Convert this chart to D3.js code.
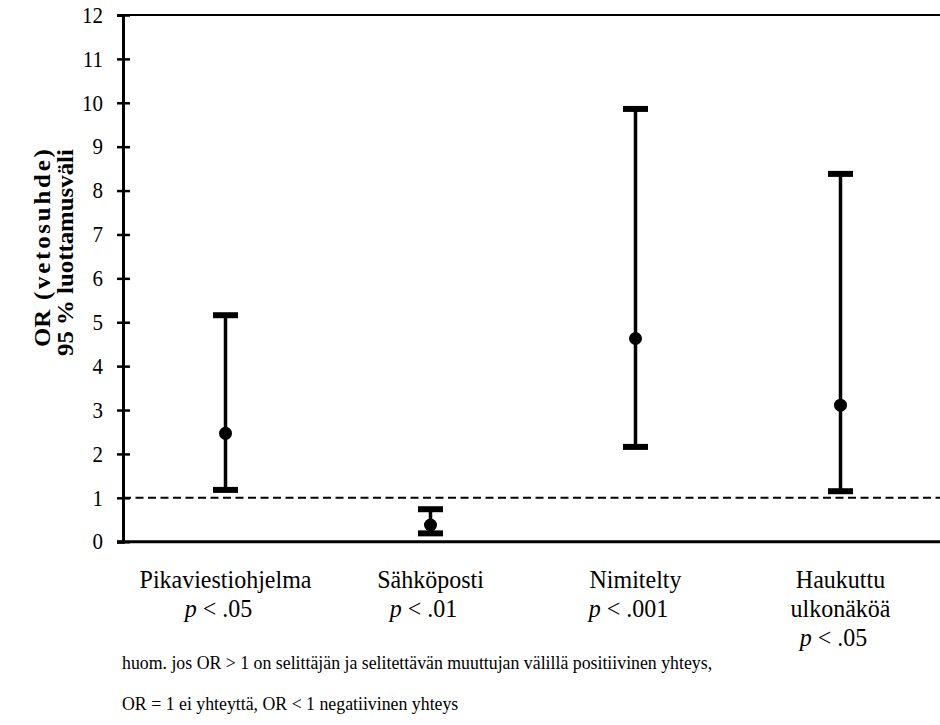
<!DOCTYPE html>
<html>
<head>
<meta charset="utf-8">
<script src="https://cdn.jsdelivr.net/npm/d3@7"></script>
<style>
  body { margin: 0; background: #fff; }
  svg text { font-family: "Liberation Serif", "Times New Roman", serif !important; fill: #000; }
</style>
</head>
<body>
<div id="chart"></div>
<script>

var categories = ["Pikaviestiohjelma", "Sähköposti", "Nimitelty", "Haukuttu ulkonäköä"];
var categoryLines = [["Pikaviestiohjelma"], ["Sähköposti"], ["Nimitelty"], ["Haukuttu", "ulkonäköä"]];
var pLabels = ["< .05", "< .01", "< .001", "< .05"];
var orValues = [2.47, 0.38, 4.63, 3.11];
var ciLower = [1.18, 0.19, 2.16, 1.15];
var ciUpper = [5.16, 0.74, 9.86, 8.38];
var yTickValues = [0, 1, 2, 3, 4, 5, 6, 7, 8, 9, 10, 11, 12];
var referenceLine = 1;
var noteLines = [
  "huom. jos OR > 1 on selittäjän ja selitettävän muuttujan välillä positiivinen yhteys,",
  "OR = 1 ei yhteyttä, OR < 1 negatiivinen yhteys"
];

var WIDTH = 940, HEIGHT = 725;
var STRETCH = "scale(1,1.08)"; // source text looks a bit tall

var svg = d3.select("#chart").append("svg")
  .attr("width", WIDTH)
  .attr("height", HEIGHT);

var x = d3.scaleBand()
  .domain(categories)
  .range([123, 943])
  .padding(0);

var y = d3.scaleLinear()
  .domain([0, 12])
  .range([541.7, 15]);

// frame: top line and bottom line
svg.append("line")
  .attr("x1", 117).attr("x2", WIDTH)
  .attr("y1", y(12)).attr("y2", y(12))
  .attr("stroke", "#000").attr("stroke-width", 2);

svg.append("line")
  .attr("x1", 117).attr("x2", WIDTH)
  .attr("y1", y(0)).attr("y2", y(0))
  .attr("stroke", "#000").attr("stroke-width", 3);

// y axis
var yAxis = svg.append("g")
  .attr("transform", "translate(" + x.range()[0] + ",0)")
  .call(d3.axisLeft(y).tickValues(yTickValues).tickSize(6).tickPadding(14));

yAxis.select(".domain").attr("stroke-width", 3);
yAxis.selectAll(".tick line")
  .attr("x1", 7)
  .attr("stroke-width", 2.5);
yAxis.selectAll(".tick text")
  .attr("font-size", 21)
  .attr("transform", STRETCH);

// dashed reference line at OR = 1
svg.append("line")
  .attr("x1", x.range()[0]).attr("x2", WIDTH)
  .attr("y1", y(referenceLine)).attr("y2", y(referenceLine))
  .attr("stroke", "#000")
  .attr("stroke-width", 2)
  .attr("stroke-dasharray", "8,4.5");

// error bars
var bars = svg.append("g").selectAll("g")
  .data(categories)
  .enter()
  .append("g")
  .attr("transform", function(d) {
    return "translate(" + (x(d) + x.bandwidth() / 2) + ",0)";
  });

bars.append("line")
  .attr("y1", function(d, i) { return y(ciLower[i]); })
  .attr("y2", function(d, i) { return y(ciUpper[i]); })
  .attr("stroke", "#000")
  .attr("stroke-width", 3.5);

bars.append("rect")
  .attr("x", -12.5).attr("width", 25)
  .attr("y", function(d, i) { return y(ciUpper[i]) - 3; })
  .attr("height", 6);

bars.append("rect")
  .attr("x", -12.5).attr("width", 25)
  .attr("y", function(d, i) { return y(ciLower[i]) - 3; })
  .attr("height", 6);

bars.append("circle")
  .attr("cy", function(d, i) { return y(orValues[i]); })
  .attr("r", 6.5);

// category labels with p values underneath
bars.each(function(d, i) {
  var g = d3.select(this);
  var lines = categoryLines[i];
  for (var k = 0; k < lines.length; k++) {
    g.append("text")
      .attr("transform", "translate(0," + (588 + k * 29) + ") " + STRETCH)
      .attr("text-anchor", "middle")
      .attr("font-size", 24)
      .text(lines[k]);
  }
  var pText = g.append("text")
    .attr("transform", "translate(-7," + (588 + lines.length * 29) + ") " + STRETCH)
    .attr("text-anchor", "middle")
    .attr("font-size", 24);
  pText.append("tspan").attr("font-style", "italic").text("p");
  pText.append("tspan").text(" " + pLabels[i]);
});

// y title, two rotated lines
var title1 = svg.append("text")
  .attr("transform", "translate(50,347) scale(1,1.08) rotate(-90)")
  .attr("font-weight", "bold")
  .attr("font-size", 23);
title1.append("tspan").text("OR");
title1.append("tspan").attr("dx", 9).attr("letter-spacing", 2.6).text("(vetosuhde)");

svg.append("text")
  .attr("transform", "translate(73,356) scale(1,1.08) rotate(-90)")
  .attr("font-weight", "bold")
  .attr("font-size", 23)
  .text("95 % luottamusväli");

// footnote
svg.selectAll(".note")
  .data(noteLines)
  .enter()
  .append("text")
  .attr("class", "note")
  .attr("transform", function(d, i) { return "translate(122," + (669 + i * 41) + ") " + STRETCH; })
  .attr("font-size", 17.8)
  .text(function(d) { return d; });

</script>
</body>
</html>
